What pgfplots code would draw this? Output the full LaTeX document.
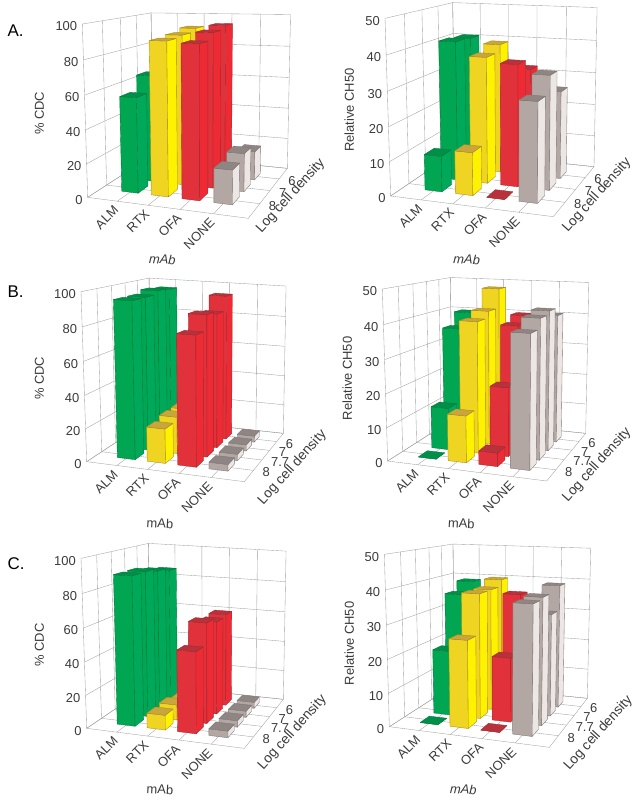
\documentclass[border=0pt]{standalone}
\usepackage{fontspec}
\setmainfont{Liberation Sans}
\usepackage{pgfplots}
\pgfplotsset{compat=1.18}

\definecolor{grnF}{HTML}{00A651}\definecolor{grnS}{HTML}{00A859}\definecolor{grnT}{HTML}{008F48}\definecolor{grnE}{HTML}{007A3D}
\definecolor{ylwF}{HTML}{EFD421}\definecolor{ylwS}{HTML}{FFF200}\definecolor{ylwT}{HTML}{C9A53C}\definecolor{ylwE}{HTML}{A88C20}
\definecolor{redF}{HTML}{E1313A}\definecolor{redS}{HTML}{EE2A35}\definecolor{redT}{HTML}{B8323C}\definecolor{redE}{HTML}{9E2A30}
\definecolor{gryF}{HTML}{B2A7A3}\definecolor{gryS}{HTML}{ECE7E4}\definecolor{gryT}{HTML}{8F8683}\definecolor{gryE}{HTML}{7D7573}
\definecolor{gridc}{HTML}{A0A0A0}
\definecolor{txt}{HTML}{3A3A3A}

\pgfplotsset{panel/.style={scale only axis, hide axis, clip=false, y dir=reverse,
  xmin=0, ymin=0, anchor=north west,
  every axis plot/.append style={line width=.35pt, line join=round}}}

% perspective view from the corners of the box (positions in panel pixels x3)
\newcommand\setfloor[8]{%
  \def\Ox{#1}\def\Oy{#2}\def\Ux{#3}\def\Uy{#4}\def\Rx{#5}\def\Ry{#6}\def\Vx{#7}\def\Vy{#8}%
  \edef\den{\fpeval{(\Ux-\Rx)*(\Vy-\Ry)-(\Vx-\Rx)*(\Uy-\Ry)}}%
  \edef\cA{\fpeval{((\Ox-\Ux+\Rx-\Vx)*(\Vy-\Ry)-(\Vx-\Rx)*(\Oy-\Uy+\Ry-\Vy))/\den}}%
  \edef\cB{\fpeval{((\Ux-\Rx)*(\Oy-\Uy+\Ry-\Vy)-(\Ox-\Ux+\Rx-\Vx)*(\Uy-\Ry))/\den}}%
  \edef\aA{\fpeval{\Ux*(1+\cA)-\Ox}}\edef\bA{\fpeval{\Uy*(1+\cA)-\Oy}}%
  \edef\aB{\fpeval{\Vx*(1+\cB)-\Ox}}\edef\bB{\fpeval{\Vy*(1+\cB)-\Oy}}}
% top front-left x,y; vertical convergence; z range; depth intervals; bar half sizes
\newcommand\setheight[7]{%
  \edef\cC{#3}%
  \edef\aC{\fpeval{#1*(1+\cC)-\Ox}}\edef\bC{\fpeval{#2*(1+\cC)-\Oy}}%
  \def\zm{#4}\def\nd{#5}\def\bu{#6}\def\bv{#7}}
\def\PX#1#2#3{\fpeval{round((\aA*(#1)/5+\aB*(#2)/\nd+\aC*(#3)/\zm+\Ox)/(\cA*(#1)/5+\cB*(#2)/\nd+\cC*(#3)/\zm+1),2)}}
\def\PY#1#2#3{\fpeval{round((\bA*(#1)/5+\bB*(#2)/\nd+\bC*(#3)/\zm+\Oy)/(\cA*(#1)/5+\cB*(#2)/\nd+\cC*(#3)/\zm+1),2)}}
\def\PT#1#2#3{(\PX{#1}{#2}{#3},\PY{#1}{#2}{#3})}

\newcommand\gline[6]{\edef\cmd{\noexpand\addplot[gridc] coordinates {\PT{#1}{#2}{#3} \PT{#4}{#5}{#6}};}\cmd}
\newcommand\walls{%
  \pgfplotsforeachungrouped \i in {0,1,2,3,4,5}{%
    \gline{\i}{0}{0}{\i}{\nd}{0}\gline{\i}{\nd}{0}{\i}{\nd}{\zm}%
    \edef\zz{\fpeval{\i*\zm/5}}%
    \gline{0}{0}{\zz}{0}{\nd}{\zz}\gline{0}{\nd}{\zz}{5}{\nd}{\zz}}%
  \pgfplotsforeachungrouped \j in {0,...,\nd}{%
    \gline{0}{\j}{0}{5}{\j}{0}\gline{0}{\j}{0}{0}{\j}{\zm}}}

% one bar: category, depth position, value, colour prefix
\newcommand\bbar[4]{%
  \edef\ua{\fpeval{#1-\bu}}\edef\ub{\fpeval{#1+\bu}}%
  \edef\va{\fpeval{#2-\bv}}\edef\vb{\fpeval{#2+\bv}}%
  \edef\cmd{%
    \noexpand\addplot[fill=#4F,draw=#4E] coordinates {\PT\ua\va{0} \PT\ub\va{0} \PT\ub\va{#3} \PT\ua\va{#3} \PT\ua\va{0}};
    \noexpand\addplot[fill=#4S,draw=#4E] coordinates {\PT\ub\va{0} \PT\ub\vb{0} \PT\ub\vb{#3} \PT\ub\va{#3} \PT\ub\va{0}};
    \noexpand\addplot[fill=#4T,draw=#4E] coordinates {\PT\ua\va{#3} \PT\ub\va{#3} \PT\ub\vb{#3} \PT\ua\vb{#3} \PT\ua\va{#3}};}\cmd}
\newcommand\threebars[5]{\bbar{#1}{3}{#5}{#2}\bbar{#1}{2}{#4}{#2}\bbar{#1}{1}{#3}{#2}}
\newcommand\fourbars[6]{\bbar{#1}{4}{#6}{#2}\bbar{#1}{3}{#5}{#2}\bbar{#1}{2}{#4}{#2}\bbar{#1}{1}{#3}{#2}}

% labels
\newcommand\fs{\fontsize{13}{15}\selectfont\color{txt}}
\newcommand\ztick[1]{\edef\cmd{\noexpand\node[anchor=east,inner sep=0pt,font=\noexpand\fs] at (axis cs:\fpeval{\PX{0}{0}{#1}-15},\fpeval{\PY{0}{0}{#1}+7}) {#1};}\cmd}
\newcommand\ucat[2]{\edef\cmd{\noexpand\node[anchor=east,rotate=45,inner sep=0pt,font=\noexpand\fs] at (axis cs:\fpeval{\PX{#1}{0}{0}-3},\fpeval{\PY{#1}{0}{0}+20}) {#2};}\cmd}
\newcommand\dcat[2]{\edef\cmd{\noexpand\node[anchor=west,inner sep=0pt,font=\noexpand\fs] at (axis cs:\fpeval{\PX{5}{#1}{0}+27},\fpeval{\PY{5}{#1}{0}+6}) {#2};}\cmd}
\newcommand\mabcats{\ucat{1}{ALM}\ucat{2}{RTX}\ucat{3}{OFA}\ucat{4}{NONE}}
\newcommand\titles[7]{% y title, its x,y; density x,y; mAb x,y
  \node[rotate=90,font=\fs] at (axis cs:#2,#3) {#1};
  \node[rotate=48,font=\fontsize{13.8}{15}\selectfont\color{txt}] at (axis cs:#4,#5) {Log cell density};
  \node[rotate=-3,font=\fs] at (axis cs:#6,#7) {\mabshape mAb};}
\newcommand\plet[3]{\node[anchor=west,inner sep=0pt,font=\fontsize{17}{19}\selectfont\color{black}] at (axis cs:#1,#2) {#3};}

\begin{document}
\begin{tikzpicture}
\path[use as bounding box] (0,0) rectangle (637bp,-802bp);

% A, % CDC
\begin{axis}[panel, at={(0bp,0bp)}, width=320bp, height=270bp, xmax=960, ymax=810]
\setfloor{263}{592}{745}{655}{862}{505}{459}{465}
\setheight{247}{72}{-.043}{100}{4}{.28}{.3}
\walls
\threebars{1}{grn}{57}{66}{75}
\threebars{2}{ylw}{90}{91}{93}
\threebars{3}{red}{89}{93}{95}
\threebars{4}{gry}{20}{23}{18}
\ztick{0}\ztick{20}\ztick{40}\ztick{60}\ztick{80}\ztick{100}
\mabcats \dcat{1}{8}\dcat{2}{7}\dcat{3}{6}
\def\mabshape{\itshape}
\titles{\% CDC}{118}{340}{872}{588}{487}{778}
\plet{22}{92}{A.}
\end{axis}

% A, CH50
\begin{axis}[panel, at={(320bp,0bp)}, width=317bp, height=270bp, xmax=951, ymax=810]
\setfloor{212}{588}{700}{650}{822}{500}{405}{457}
\setheight{195}{55}{-.043}{50}{4}{.28}{.3}
\walls
\threebars{1}{grn}{10.5}{41.5}{41}
\threebars{2}{ylw}{12.5}{37.5}{39.5}
\threebars{3}{red}{0}{36}{32.5}
\threebars{4}{gry}{28.5}{33.5}{26.5}
\ztick{0}\ztick{10}\ztick{20}\ztick{30}\ztick{40}\ztick{50}
\mabcats \dcat{1}{8}\dcat{2}{7}\dcat{3}{6}
\def\mabshape{\itshape}
\titles{Relative CH50}{88}{330}{831}{586}{440}{778}
\end{axis}

% B, % CDC
\begin{axis}[panel, at={(0bp,-270bp)}, width=320bp, height=265bp, xmax=960, ymax=795]
\setfloor{260}{575}{733}{635}{850}{490}{454}{447}
\setheight{243}{65}{-.043}{100}{5}{.3}{.33}
\walls
\fourbars{1}{grn}{95}{95}{97}{96}
\fourbars{2}{ylw}{21}{23}{23}{20}
\fourbars{3}{red}{78}{87}{85}{94}
\fourbars{4}{gry}{4}{4}{4}{4}
\ztick{0}\ztick{20}\ztick{40}\ztick{60}\ztick{80}\ztick{100}
\mabcats \dcat{1}{8}\dcat{2}{7.7}\dcat{3}{7}\dcat{4}{6}
\def\mabshape{}
\titles{\% CDC}{118}{325}{877}{593}{480}{760}
\plet{22}{65}{B.}
\end{axis}

% B, CH50
\begin{axis}[panel, at={(320bp,-270bp)}, width=317bp, height=265bp, xmax=951, ymax=795]
\setfloor{203}{573}{680}{633}{797}{490}{397}{449}
\setheight{187}{57}{-.043}{50}{5}{.3}{.33}
\walls
\fourbars{1}{grn}{0}{13}{36}{40}
\fourbars{2}{ylw}{14}{40}{42}{48}
\fourbars{3}{red}{4}{21}{38}{40}
\fourbars{4}{gry}{39}{42}{43}{40.5}
\ztick{0}\ztick{10}\ztick{20}\ztick{30}\ztick{40}\ztick{50}
\mabcats \dcat{1}{8}\dcat{2}{7.7}\dcat{3}{7}\dcat{4}{6}
\def\mabshape{}
\titles{Relative CH50}{82}{325}{831}{585}{424}{760}
\end{axis}

% C, % CDC
\begin{axis}[panel, at={(0bp,-535bp)}, width=320bp, height=267bp, xmax=960, ymax=801]
\setfloor{260}{580}{733}{640}{850}{493}{452}{450}
\setheight{243}{70}{-.043}{100}{5}{.3}{.33}
\walls
\fourbars{1}{grn}{90}{90}{88}{86}
\fourbars{2}{ylw}{9}{9.5}{7}{6}
\fourbars{3}{red}{49}{62}{59}{60}
\fourbars{4}{gry}{4}{4}{4}{4}
\ztick{0}\ztick{20}\ztick{40}\ztick{60}\ztick{80}\ztick{100}
\mabcats \dcat{1}{8}\dcat{2}{7.7}\dcat{3}{7}\dcat{4}{6}
\def\mabshape{}
\titles{\% CDC}{118}{330}{877}{593}{480}{763}
\plet{22}{85}{C.}
\end{axis}

% C, CH50
\begin{axis}[panel, at={(320bp,-535bp)}, width=317bp, height=267bp, xmax=951, ymax=801]
\setfloor{208}{575}{688}{637}{802}{490}{404}{449}
\setheight{193}{58}{-.043}{50}{5}{.3}{.33}
\walls
\fourbars{1}{grn}{0}{20}{36}{39}
\fourbars{2}{ylw}{26}{38}{38}{40}
\fourbars{3}{red}{0}{19.5}{37}{35}
\fourbars{4}{gry}{37.5}{38}{31.5}{39}
\ztick{0}\ztick{10}\ztick{20}\ztick{30}\ztick{40}\ztick{50}
\mabcats \dcat{1}{8}\dcat{2}{7.7}\dcat{3}{7}\dcat{4}{6}
\def\mabshape{\itshape}
\titles{Relative CH50}{88}{325}{835}{595}{430}{763}
\end{axis}
\end{tikzpicture}
\end{document}
